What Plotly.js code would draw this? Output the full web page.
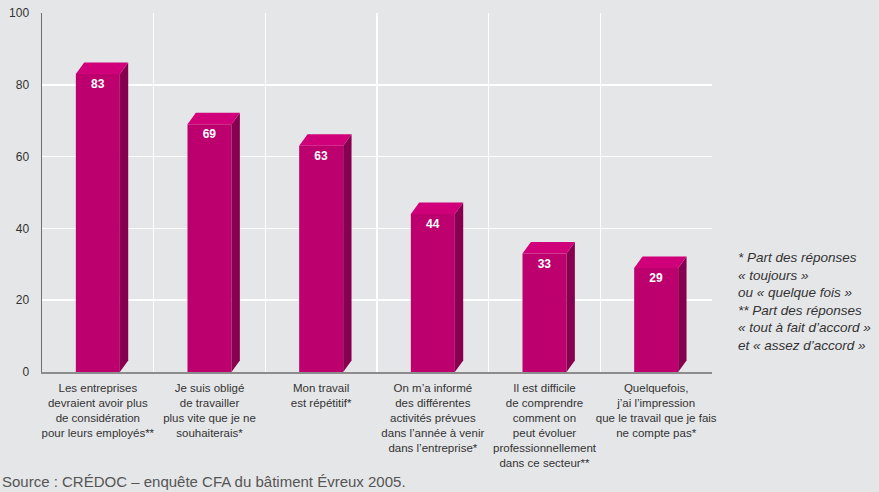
<!DOCTYPE html>
<html>
<head>
<meta charset="utf-8">
<script src="https://cdn.plot.ly/plotly-3.0.1.min.js"></script>
<style>html,body{margin:0;padding:0;background:#e5e6e8;}#chart{width:879px;height:492px;}</style>
</head>
<body>
<div id="chart"></div>
<script>
const categories = [
  "Les entreprises<br>devraient avoir plus<br>de considération<br>pour leurs employés**",
  "Je suis obligé<br>de travailler<br>plus vite que je ne<br>souhaiterais*",
  "Mon travail<br>est répétitif*",
  "On m’a informé<br>des différentes<br>activités prévues<br>dans l’année à venir<br>dans l’entreprise*",
  "Il est difficile<br>de comprendre<br>comment on<br>peut évoluer<br>professionnellement<br>dans ce secteur**",
  "Quelquefois,<br>j’ai l’impression<br>que le travail que je fais<br>ne compte pas*"
];
const values = [83, 69, 63, 44, 33, 29];
const valueLabels = ["83", "69", "63", "44", "33", "29"];
const yTicks = [0, 20, 40, 60, 80, 100];
const sourceText = "Source : CRÉDOC – enquête CFA du bâtiment Évreux 2005.";
const noteText = "<i>* Part des réponses<br>« toujours »<br>ou « quelque fois »<br>** Part des réponses<br>« tout à fait d’accord »<br>et « assez d’accord »</i>";

const idx = categories.map((c, i) => i);
const W = 0.394, DX = 0.075, DY = 3.2;
const FONT = '"Liberation Sans", Arial, Helvetica, sans-serif';

const traces = [{
  type: 'bar', x: idx, y: values, width: W,
  marker: {color: '#bc006e', line: {width: 0}},
  text: valueLabels, textposition: 'inside', insidetextanchor: 'end',
  textfont: {color: '#ffffff', size: 12, family: FONT, weight: 'bold'},
  hoverinfo: 'skip', cliponaxis: false
}];
values.forEach((v, i) => {
  const xl = i - W/2, xr = i + W/2;
  traces.push({
    type: 'scatter', mode: 'lines', fill: 'toself', fillcolor: '#870050',
    line: {width: 0, color: '#870050'}, hoverinfo: 'skip', showlegend: false, cliponaxis: false,
    x: [xr, xr + DX, xr + DX, xr, xr], y: [0, DY, v + DY, v, 0]
  });
  traces.push({
    type: 'scatter', mode: 'lines', fill: 'toself', fillcolor: '#cf0079',
    line: {width: 0, color: '#cf0079'}, hoverinfo: 'skip', showlegend: false, cliponaxis: false,
    x: [xl, xl + DX, xr + DX, xr, xl], y: [v, v + DY, v + DY, v, v]
  });
});

const layout = {
  width: 879, height: 492,
  margin: {l: 42, r: 167, t: 13, b: 120, pad: 0},
  paper_bgcolor: '#e5e6e8', plot_bgcolor: '#e5e6e8',
  showlegend: false,
  font: {family: FONT, size: 12, color: '#333333'},
  xaxis: {
    type: 'linear', range: [-0.5, 5.5], fixedrange: true,
    tickmode: 'array', tickvals: idx, ticktext: categories, tickangle: 0,
    showgrid: false, zeroline: false, ticks: '', ticklabelstandoff: 4,
    showline: true, linecolor: '#8c8c8c', linewidth: 2,
    tickfont: {family: FONT, size: 11.5, color: '#333333'},
    minor: {tickmode: 'linear', tick0: -0.5, dtick: 1, showgrid: true, gridcolor: '#ffffff', gridwidth: 1.5, ticks: ''}
  },
  yaxis: {
    range: [0, 100], fixedrange: true,
    tickmode: 'array', tickvals: yTicks,
    showgrid: true, gridcolor: '#ffffff', gridwidth: 1.5, zeroline: false,
    showline: true, linecolor: '#6e6e6e', linewidth: 1.5,
    ticks: '', ticklabelstandoff: 9,
    tickfont: {family: FONT, size: 12, color: '#333333'}
  },
  annotations: [
    {text: sourceText, xref: 'paper', yref: 'paper', x: -0.0627, y: -0.305, xanchor: 'left', yanchor: 'middle',
     showarrow: false, font: {family: FONT, size: 15, color: '#555555'}},
    {text: noteText, xref: 'paper', yref: 'paper', x: 1.036, y: 0.196, xanchor: 'left', yanchor: 'middle',
     align: 'left', showarrow: false, font: {family: FONT, size: 13.5, color: '#333333'}}
  ]
};

Plotly.newPlot('chart', traces, layout, {displayModeBar: false, staticPlot: true});
</script>
</body>
</html>
